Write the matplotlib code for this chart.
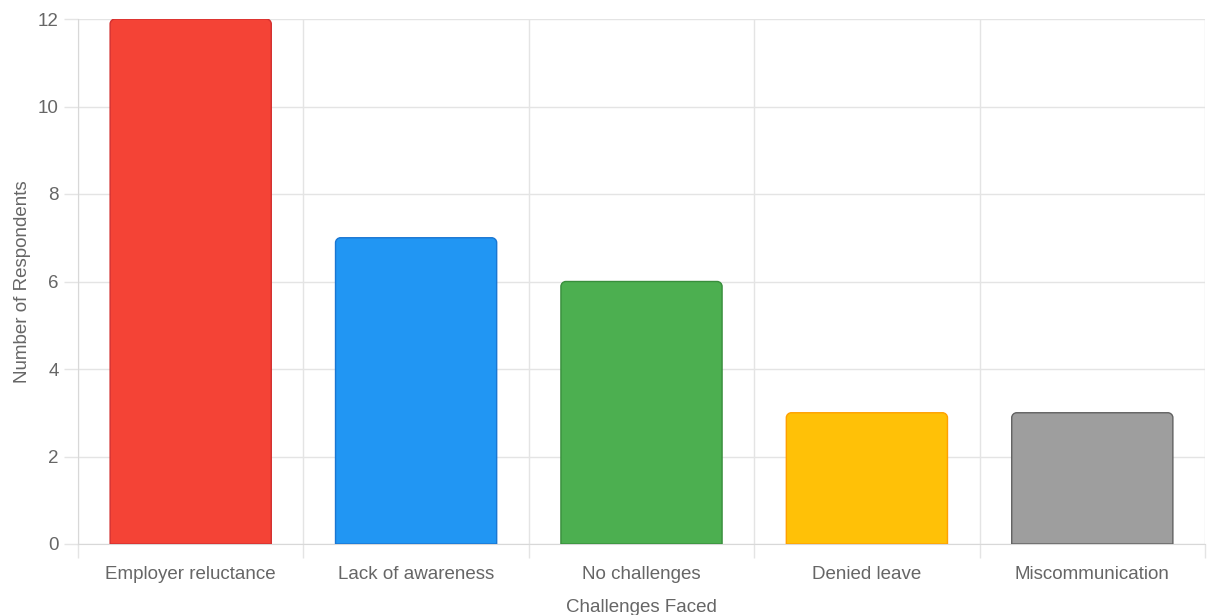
import matplotlib
matplotlib.use("Agg")
import matplotlib.pyplot as plt
from matplotlib.path import Path
from matplotlib.patches import PathPatch
import numpy as np

categories = ["Employer reluctance", "Lack of awareness", "No challenges", "Denied leave", "Miscommunication"]
values = [12, 7, 6, 3, 3]
fill_colors = ["#F44336", "#2196F3", "#4CAF50", "#FFC107", "#9E9E9E"]
edge_colors = ["#D32F2F", "#1976D2", "#388E3C", "#FFA000", "#616161"]
y_ticks = [0, 2, 4, 6, 8, 10, 12]

plt.rcParams['font.family'] = ['Liberation Sans', 'DejaVu Sans']
W, H = 1226, 615
fig = plt.figure(figsize=(W / 100, H / 100), dpi=100)
ax = fig.add_axes([78 / W, (H - 544) / H, (1205 - 78) / W, (544 - 19) / H])

x = np.arange(len(categories))
ax.set_xlim(-0.5, len(categories) - 0.5)
ax.set_ylim(0, 12)

bars = ax.bar(x, values, width=0.715, color="none", edgecolor="none")

fig.canvas.draw()
r_px = 5
trans = ax.transData
p0 = trans.transform((0, 0))
p1 = trans.transform((1, 1))
rx = r_px / (p1[0] - p0[0])
ry = r_px / (p1[1] - p0[1])

for b, fc, ec in zip(bars, fill_colors, edge_colors):
    x0 = b.get_x(); w = b.get_width(); h = b.get_height()
    x1 = x0 + w
    k = 0.5523
    verts = [
        (x0, 0), (x0, h - ry),
        (x0, h - ry + k * ry), (x0 + rx - k * rx, h), (x0 + rx, h),
        (x1 - rx, h),
        (x1 - rx + k * rx, h), (x1, h - ry + k * ry), (x1, h - ry),
        (x1, 0), (x0, 0)
    ]
    codes = [Path.MOVETO, Path.LINETO,
             Path.CURVE4, Path.CURVE4, Path.CURVE4,
             Path.LINETO,
             Path.CURVE4, Path.CURVE4, Path.CURVE4,
             Path.LINETO, Path.CLOSEPOLY]
    patch = PathPatch(Path(verts, codes), facecolor=fc, edgecolor=ec, linewidth=1.0, zorder=3)
    ax.add_patch(patch)

grid_c = "#e4e4e4"
text_c = "#666666"
fs = 13.5

ax.set_yticks(y_ticks)
ax.set_yticklabels([str(v) for v in y_ticks])
ax.set_xticks(x)
ax.set_xticklabels(categories)
ax.set_xticks(np.arange(-0.5, len(categories)), minor=True)

ax.tick_params(axis="x", which="major", length=0, pad=16, labelsize=fs, labelcolor=text_c)
ax.tick_params(axis="x", which="minor", length=10, width=1, color=grid_c)
ax.tick_params(axis="y", which="major", length=10, width=1, color=grid_c, pad=4, labelsize=fs, labelcolor=text_c)

ax.grid(True, axis="y", which="major", color=grid_c, linewidth=1, zorder=0)
ax.grid(True, axis="x", which="minor", color=grid_c, linewidth=1, zorder=0)
ax.grid(False, axis="x", which="major")
ax.set_axisbelow(True)

for s in ["top", "right"]:
    ax.spines[s].set_visible(False)
ax.spines["left"].set_color("#d8d8d8")
ax.spines["bottom"].set_color("#d8d8d8")

ax.set_xlabel("Challenges Faced", fontsize=fs, color=text_c, labelpad=11)
ax.set_ylabel("Number of Respondents", fontsize=fs, color=text_c, labelpad=5)

fig.savefig("out.png", dpi=100)
